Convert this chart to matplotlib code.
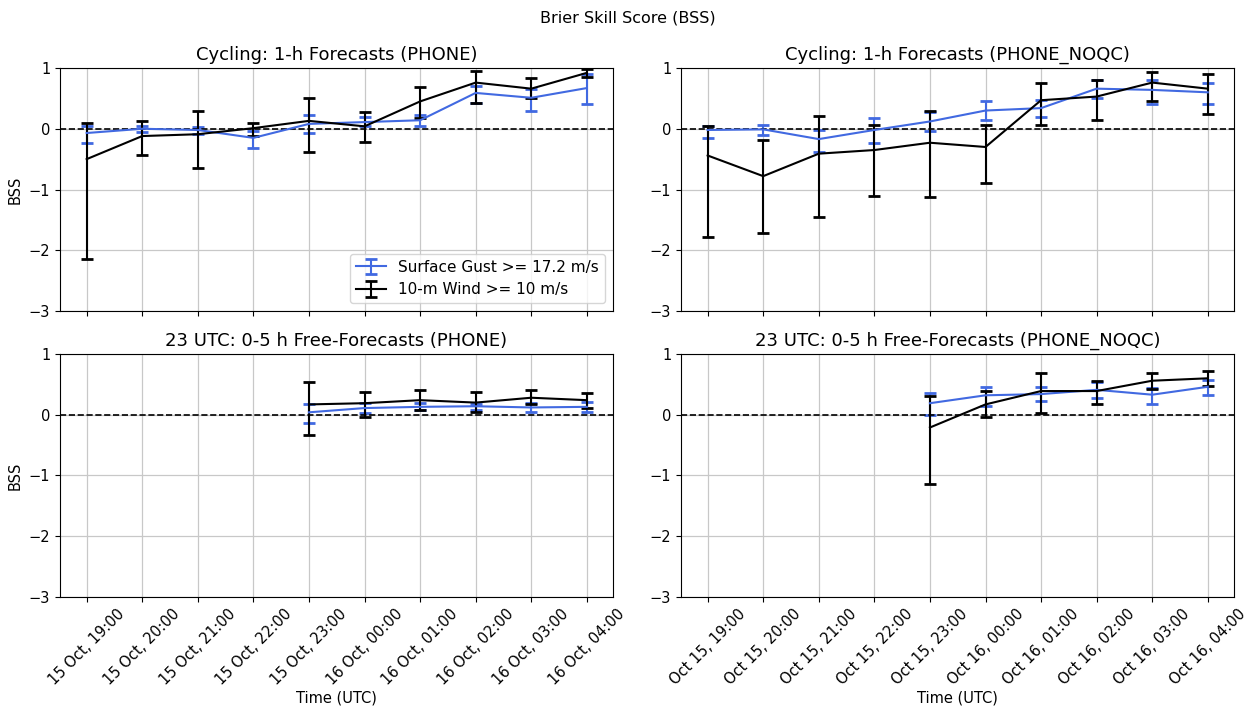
import numpy as np
import matplotlib
matplotlib.use('Agg')
import matplotlib.pyplot as plt

labels_left = ['15 Oct, 19:00', '15 Oct, 20:00', '15 Oct, 21:00', '15 Oct, 22:00', '15 Oct, 23:00',
               '16 Oct, 00:00', '16 Oct, 01:00', '16 Oct, 02:00', '16 Oct, 03:00', '16 Oct, 04:00']
labels_right = ['Oct 15, 19:00', 'Oct 15, 20:00', 'Oct 15, 21:00', 'Oct 15, 22:00', 'Oct 15, 23:00',
                'Oct 16, 00:00', 'Oct 16, 01:00', 'Oct 16, 02:00', 'Oct 16, 03:00', 'Oct 16, 04:00']

# cycling, PHONE
cyc_gust = [-0.07, 0.0, -0.02, -0.15, 0.08, 0.11, 0.14, 0.59, 0.51, 0.67]
cyc_gust_hi = [0.04, 0.05, 0.03, -0.03, 0.22, 0.19, 0.23, 0.70, 0.66, 0.90]
cyc_gust_lo = [-0.23, -0.06, -0.08, -0.31, -0.07, 0.04, 0.05, 0.43, 0.29, 0.40]
cyc_wind = [-0.50, -0.12, -0.09, 0.01, 0.13, 0.04, 0.45, 0.76, 0.66, 0.92]
cyc_wind_hi = [0.09, 0.13, 0.30, 0.10, 0.51, 0.28, 0.69, 0.95, 0.83, 0.99]
cyc_wind_lo = [-2.14, -0.44, -0.64, -0.12, -0.39, -0.21, 0.17, 0.43, 0.50, 0.86]

# cycling, PHONE_NOQC
cycn_gust = [-0.02, -0.01, -0.17, -0.02, 0.12, 0.30, 0.34, 0.66, 0.64, 0.60]
cycn_gust_hi = [0.04, 0.06, -0.02, 0.17, 0.28, 0.45, 0.48, 0.80, 0.80, 0.75]
cycn_gust_lo = [-0.15, -0.10, -0.38, -0.24, -0.04, 0.15, 0.20, 0.51, 0.40, 0.41]
cycn_wind = [-0.44, -0.78, -0.41, -0.35, -0.23, -0.30, 0.47, 0.53, 0.76, 0.66]
cycn_wind_hi = [0.04, -0.18, 0.21, 0.07, 0.29, 0.06, 0.75, 0.80, 0.93, 0.90]
cycn_wind_lo = [-1.78, -1.72, -1.46, -1.10, -1.12, -0.90, 0.06, 0.15, 0.46, 0.25]

# free forecasts from 23 UTC (valid 23:00 .. 04:00)
free_idx = [4, 5, 6, 7, 8, 9]
free_gust = [0.04, 0.11, 0.13, 0.14, 0.12, 0.13]
free_gust_hi = [0.17, 0.20, 0.19, 0.18, 0.19, 0.21]
free_gust_lo = [-0.13, 0.03, 0.07, 0.08, 0.05, 0.05]
free_wind = [0.17, 0.19, 0.24, 0.20, 0.28, 0.24]
free_wind_hi = [0.54, 0.38, 0.41, 0.37, 0.40, 0.36]
free_wind_lo = [-0.33, -0.04, 0.07, 0.05, 0.17, 0.11]

freen_gust = [0.19, 0.32, 0.34, 0.41, 0.33, 0.46]
freen_gust_hi = [0.35, 0.46, 0.46, 0.54, 0.44, 0.57]
freen_gust_lo = [0.00, 0.15, 0.22, 0.28, 0.17, 0.33]
freen_wind = [-0.21, 0.17, 0.39, 0.39, 0.56, 0.60]
freen_wind_hi = [0.31, 0.39, 0.69, 0.56, 0.69, 0.72]
freen_wind_lo = [-1.14, -0.04, 0.03, 0.17, 0.42, 0.48]

cyc_idx = list(range(10))

fig = plt.figure(figsize=(12.55, 7.07), dpi=100)
w = 0.4406
h = 0.3437
ax1 = fig.add_axes([0.0478, 0.5601, w, h])
ax2 = fig.add_axes([0.5426, 0.5601, w, h])
ax3 = fig.add_axes([0.0478, 0.1556, w, h])
ax4 = fig.add_axes([0.5426, 0.1556, w, h])


def draw(ax, x, g, ghi, glo, wv, whi, wlo):
    g = np.array(g); wv = np.array(wv)
    gerr = [g - np.array(glo), np.array(ghi) - g]
    werr = [wv - np.array(wlo), np.array(whi) - wv]
    ax.errorbar(x, g, yerr=gerr, color='royalblue', lw=1.5, capsize=4.5, capthick=2,
                label='Surface Gust >= 17.2 m/s')
    ax.errorbar(x, wv, yerr=werr, color='black', lw=1.5, capsize=4.5, capthick=2,
                label='10-m Wind >= 10 m/s')
    ax.axhline(0, color='black', ls='--', lw=1.2)
    ax.set_ylim(-3, 1)
    ax.set_yticks([-3, -2, -1, 0, 1])
    ax.set_xlim(-0.48, 9.47)
    ax.set_xticks(range(10))
    ax.grid(True, color='#c8c8c8', lw=0.9)
    ax.set_axisbelow(True)
    ax.tick_params(labelsize=10.5)


draw(ax1, cyc_idx, cyc_gust, cyc_gust_hi, cyc_gust_lo, cyc_wind, cyc_wind_hi, cyc_wind_lo)
draw(ax2, cyc_idx, cycn_gust, cycn_gust_hi, cycn_gust_lo, cycn_wind, cycn_wind_hi, cycn_wind_lo)
draw(ax3, free_idx, free_gust, free_gust_hi, free_gust_lo, free_wind, free_wind_hi, free_wind_lo)
draw(ax4, free_idx, freen_gust, freen_gust_hi, freen_gust_lo, freen_wind, freen_wind_hi, freen_wind_lo)

ax1.set_xticklabels([])
ax2.set_xticklabels([])
ax3.set_xticklabels(labels_left, rotation=45)
ax4.set_xticklabels(labels_right, rotation=45)

ax1.set_title('Cycling: 1-h Forecasts (PHONE)', fontsize=13)
ax2.set_title('Cycling: 1-h Forecasts (PHONE_NOQC)', fontsize=13)
ax3.set_title('23 UTC: 0-5 h Free-Forecasts (PHONE)', fontsize=13)
ax4.set_title('23 UTC: 0-5 h Free-Forecasts (PHONE_NOQC)', fontsize=13)

ax1.set_ylabel('BSS', fontsize=10.5)
ax3.set_ylabel('BSS', fontsize=10.5)
ax3.set_xlabel('Time (UTC)', fontsize=10.5, labelpad=2)
ax4.set_xlabel('Time (UTC)', fontsize=10.5, labelpad=2)

ax1.legend(loc='lower right', fontsize=11)

fig.suptitle('Brier Skill Score (BSS)', fontsize=11.5, y=0.985)

fig.savefig('out.png', dpi=100)
